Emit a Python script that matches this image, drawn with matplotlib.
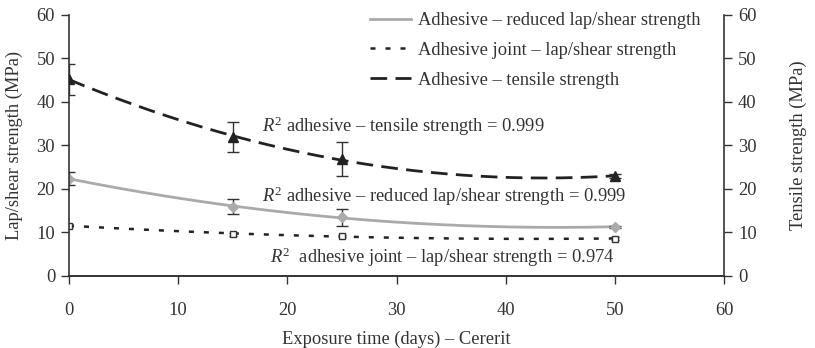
import numpy as np
import matplotlib
matplotlib.use("Agg")
import matplotlib.pyplot as plt

days = [0, 15, 25, 50]
tensile = [45.2, 32.0, 26.8, 23.0]
tensile_err = [3.5, 3.5, 3.9, 0.5]
reduced = [22.4, 15.9, 13.5, 11.3]
reduced_err = [1.6, 1.7, 1.9, 0.3]
joint = [11.6, 9.6, 9.2, 8.6]
joint_err = [0.3, 0.3, 0.3, 0.3]

labels = ["Adhesive \u2013 reduced lap/shear strength",
          "Adhesive joint \u2013 lap/shear strength",
          "Adhesive \u2013 tensile strength"]
r2_texts = ["$R^2$ adhesive \u2013 tensile strength = 0.999",
            "$R^2$ adhesive \u2013 reduced lap/shear strength = 0.999",
            "$R^2$  adhesive joint \u2013 lap/shear strength = 0.974"]

plt.rcParams['font.family'] = ['Liberation Serif', 'DejaVu Serif']
plt.rcParams['mathtext.fontset'] = 'custom'
plt.rcParams['mathtext.it'] = 'Liberation Serif:italic'
plt.rcParams['mathtext.rm'] = 'Liberation Serif'
TC = '#333333'
FS = 13.3

fig = plt.figure(figsize=(8.15, 3.48), dpi=100)
ax = fig.add_axes([0.0847, 0.207, 0.8037, 0.750])
ax2 = ax.twinx()

xs = np.linspace(0, 50, 200)

def trend(x, y, deg=2):
    c = np.polyfit(x, y, deg)
    return np.polyval(c, xs)

# reduced lap/shear (gray)
l1, = ax.plot(xs, trend(days, reduced), color='#aaaaaa', lw=2)
ax.errorbar(days, reduced, yerr=reduced_err, fmt='D', color='#aaaaaa', ms=5,
            ecolor='#333333', elinewidth=1, capsize=4, capthick=1)
# joint (dotted)
l2, = ax.plot(xs, trend(days, joint), color='#222222', lw=1.8, dashes=(2, 4))
ax.errorbar(days, joint, yerr=joint_err, fmt='s', mfc='white', mec='#333333',
            ms=5, mew=1, ecolor='#333333', elinewidth=1, capsize=3)
# tensile (dashed) on right axis
l3, = ax2.plot(xs, trend(days, tensile), color='#222222', lw=2, dashes=(6, 3))
ax2.errorbar(days, tensile, yerr=tensile_err, fmt='^', color='#222222', ms=7,
             ecolor='#333333', elinewidth=1, capsize=4, capthick=1)

for a in (ax, ax2):
    a.set_xlim(0, 60)
    a.set_ylim(0, 60)
    a.set_yticks(range(0, 61, 10))
    a.spines['top'].set_visible(False)
    for s in a.spines.values():
        s.set_color(TC)
        s.set_linewidth(1.2)
    a.tick_params(colors=TC, labelcolor=TC, labelsize=FS, length=6, width=1)
ax.spines['right'].set_visible(False)
ax2.spines['left'].set_visible(False)
ax.set_xticks(range(0, 61, 10))
ax.tick_params(axis='x', pad=13)
ax.tick_params(axis='y', pad=4)
ax2.tick_params(axis='y', pad=4)

ax.set_xlabel("Exposure time (days) \u2013 Cererit", fontsize=FS, color=TC, labelpad=8)
ax.set_ylabel("Lap/shear strength (MPa)", fontsize=FS, color=TC, labelpad=10)
ax2.set_ylabel("Tensile strength (MPa)", fontsize=FS, color=TC, labelpad=24)

ax2.legend([l1, l2, l3], labels, loc='upper right', bbox_to_anchor=(0.99, 1.075),
           frameon=False, fontsize=FS, handlelength=2.2, handletextpad=0.4,
           labelcolor=TC, labelspacing=0.7)

ax2.text(17.7, 34.5, r2_texts[0], fontsize=FS, color=TC, va='center')
ax2.text(17.7, 18.4, r2_texts[1], fontsize=FS, color=TC, va='center')
ax2.text(18.4, 4.4, r2_texts[2], fontsize=FS, color=TC, va='center')

fig.savefig("out.png", dpi=100)
